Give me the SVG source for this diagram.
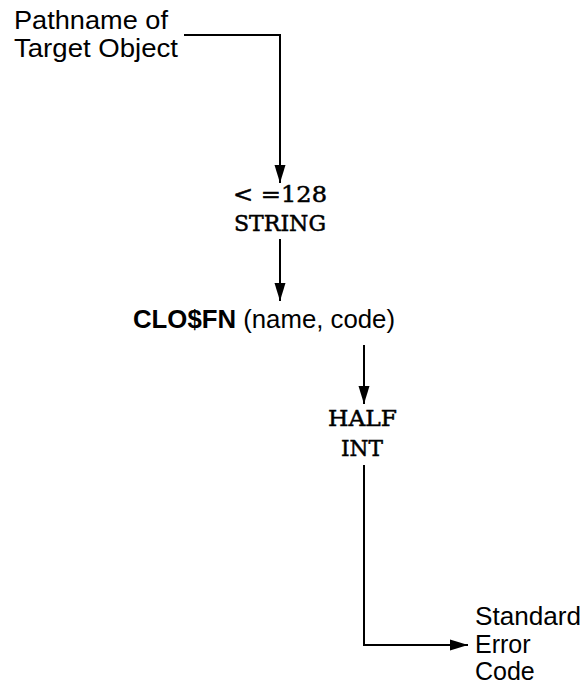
<svg xmlns="http://www.w3.org/2000/svg" width="586" height="689" viewBox="0 0 586 689">
<style>
.sans{font-family:"Liberation Sans",Arial,sans-serif;font-size:25px;fill:#000}
.tw{font-family:"DejaVu Serif","Liberation Serif",serif;font-size:22px;fill:#000;stroke:#000;stroke-width:0.5}
.ln{fill:none;stroke:#000;stroke-width:2}
</style>
<defs>
<marker id="ah" markerWidth="18" markerHeight="12" refX="18" refY="6" orient="auto" markerUnits="userSpaceOnUse">
<path d="M0,0.5 L18,6 L0,11.5 Z" fill="#000"/>
</marker>
</defs>
<rect width="586" height="689" fill="#fff"/>
<g id="pathname">
<text class="sans" x="14" y="29" textLength="154" lengthAdjust="spacingAndGlyphs">Pathname of</text>
<text class="sans" x="14" y="57" textLength="164" lengthAdjust="spacingAndGlyphs">Target Object</text>
</g>
<g id="string">
<text class="tw" x="233" y="202" textLength="94" lengthAdjust="spacingAndGlyphs">&lt; =128</text>
<text class="tw" x="234" y="231" textLength="92" lengthAdjust="spacingAndGlyphs">STRING</text>
</g>
<g id="call">
<text class="sans" x="133" y="328" textLength="262" lengthAdjust="spacingAndGlyphs"><tspan font-weight="bold">CLO$FN</tspan> (name, code)</text>
</g>
<g id="halfint">
<text class="tw" x="328" y="426" textLength="69" lengthAdjust="spacingAndGlyphs">HALF</text>
<text class="tw" x="341" y="456" textLength="42" lengthAdjust="spacingAndGlyphs">INT</text>
</g>
<g id="errcode">
<text class="sans" x="475" y="625" textLength="106" lengthAdjust="spacingAndGlyphs">Standard</text>
<text class="sans" x="475" y="653">Error</text>
<text class="sans" x="475" y="680">Code</text>
</g>
<g id="connectors">
<path class="ln" d="M184,35 H280 V183" marker-end="url(#ah)"/>
<path class="ln" d="M280,239 V301" marker-end="url(#ah)"/>
<path class="ln" d="M364,345 V404" marker-end="url(#ah)"/>
<path class="ln" d="M364,465 V645 H468" marker-end="url(#ah)"/>
</g>
</svg>
